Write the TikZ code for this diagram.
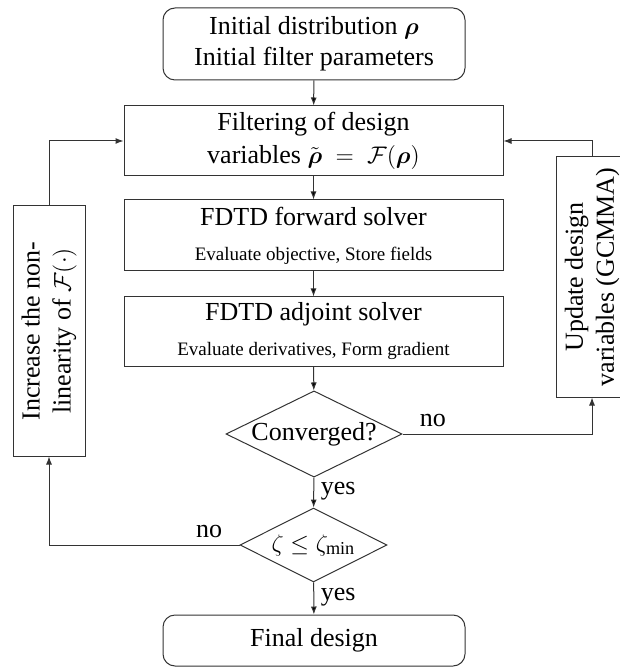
\documentclass[tikz,border=0pt]{standalone}
\usepackage{amsmath,amsfonts}
\usepackage{fontspec}
\setmainfont{Liberation Serif}
\usepackage{tikz}
\usetikzlibrary{shapes.geometric,arrows.meta}
\newcommand{\brho}{\boldsymbol{\rho}}

\begin{document}
\begin{tikzpicture}[x=0.5pt,y=-0.5pt,font=\fontsize{13}{15.5}\selectfont,line width=0.5pt,
    >={Latex[length=4pt,width=3pt]},
    arr/.style={->,draw=black!80},
    rnode/.style={draw=black!80,rounded corners=6pt,align=center,minimum width=151pt,inner sep=2pt},
    bnode/.style={draw=black!80,rectangle,align=center,minimum width=189.5pt,inner sep=2pt},
    dnode/.style={draw=black!80,diamond,aspect=2,inner sep=0pt},
    snode/.style={draw=black!80,rectangle,rotate=90,align=center,minimum height=36pt,inner sep=2pt},
    sub/.style={font=\fontsize{9.5}{11}\selectfont}]
    \useasboundingbox (0,0) rectangle (619,667);
    \node[rnode,minimum height=36pt] (init) at (314,44) {Initial distribution $\brho$\\Initial filter parameters};
    \node[bnode,minimum height=35pt] (filt) at (313.5,141) {Filtering of design\\[1pt]variables $\tilde{\brho} \;=\; \mathcal{F}(\brho)$};
    \node[bnode,minimum height=35.5pt] (fwd) at (313.5,235.5) {FDTD forward solver\\[2pt]{\fontsize{9.5}{11}\selectfont Evaluate objective, Store fields}};
    \node[bnode,minimum height=34.5pt] (adj) at (313.5,331.5) {FDTD adjoint solver\\[2pt]{\fontsize{9.5}{11}\selectfont Evaluate derivatives, Form gradient}};
    \node[dnode,minimum width=88pt,minimum height=43pt] (conv) at (314,434) {Converged?};
    \node[dnode,minimum width=73.5pt,minimum height=37pt] (zeta) at (313.5,545) {$\zeta \leq \zeta_{\text{min}}$};
    \node[rnode,minimum height=25.5pt] (fin) at (314,640.5) {Final design};
    \node[snode,minimum width=125pt] (incr) at (49,331) {Increase the non-\\linearity of $\mathcal{F}(\cdot)$};
    \node[snode,minimum width=120pt] (upd) at (592,277) {Update design\\variables (GCMMA)};

    \draw[arr] (init) edge (filt);
    \draw[arr] (filt) edge (fwd);
    \draw[arr] (fwd) edge (adj);
    \draw[arr] (adj) edge (conv);
    \draw[arr] (conv) edge node [pos=0.45, right] {yes} (zeta);
    \draw[arr] (zeta) edge node [pos=0.45, right] {yes} (fin);
    \draw[arr] (conv) -| node [pos=0.08, above] {no} (upd);
    \draw[arr] (upd) |- (filt);
    \draw[arr] (zeta) -| node [pos=0.08, above] {no} (incr);
    \draw[arr] (incr) |- (filt);
\end{tikzpicture}
\end{document}
